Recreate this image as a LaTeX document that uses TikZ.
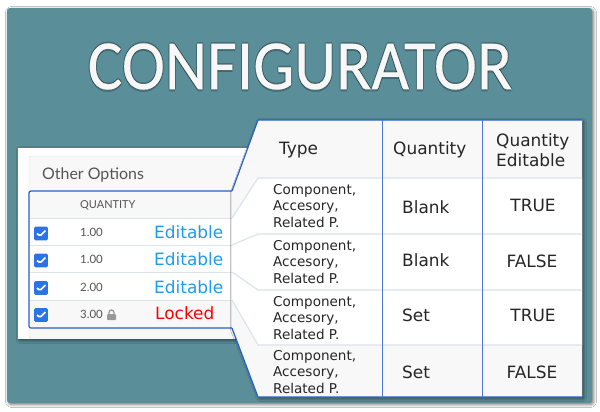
\documentclass[tikz,border=0pt]{standalone}
\usepackage{fontspec}
\setmainfont{DejaVu Sans}
\newfontfamily\titlefont[FakeStretch=0.92,FakeBold=0.3]{Carlito}
\newfontfamily\sfdcfont{Lato}
\usetikzlibrary{shadows.blur}
\definecolor{tealbg}{HTML}{5A8F9A}
\definecolor{rowgray}{HTML}{F8F8F8}
\definecolor{rowline}{HTML}{DDE3EC}
\definecolor{edgeblue}{HTML}{2A5FC8}
\definecolor{colblue}{HTML}{4A78D8}
\definecolor{editblue}{HTML}{1E9BF0}
\definecolor{chkblue}{HTML}{2B74E4}
\definecolor{sfdcgray}{HTML}{555555}
\tikzset{
  softshadow/.style={blur shadow={shadow xshift=1.5pt,shadow yshift=-1.5pt,shadow blur steps=6,shadow blur radius=3pt,shadow opacity=55}},
  headtxt/.style={font=\fontsize{17}{20}\selectfont,text=black!85,inner sep=0pt,align=left},
  celltxt/.style={font=\fontsize{17}{20}\selectfont,text=black!85,inner sep=0pt},
  typetxt/.style={font=\fontsize{13.6}{16.3}\selectfont,text=black!85,inner sep=0pt,anchor=west,align=left},
  qtytxt/.style={font=\sfdcfont\fontsize{11.5}{14}\selectfont,text=sfdcgray,inner sep=0pt,anchor=west},
  edittxt/.style={font=\fontsize{17}{20}\selectfont,text=editblue,inner sep=0pt,anchor=west},
  titletxt/.style={font=\titlefont\fontsize{71}{80}\selectfont,inner sep=0pt},
  titleglow/.style={titletxt,text=black,text opacity=.22},
  chkbox/.style={fill=chkblue,rounded corners=1.5pt,minimum width=14pt,minimum height=14pt,inner sep=0pt,
    path picture={\draw[white,line width=1.7pt] ([xshift=-4pt,yshift=0pt]path picture bounding box.center) -- ([xshift=-1pt,yshift=-2.5pt]path picture bounding box.center) -- ([xshift=4.5pt,yshift=3pt]path picture bounding box.center);}},
  rowsep/.style={draw=rowline,line width=1pt},
  blueedge/.style={draw=edgeblue,line width=1.2pt},
  colsep/.style={draw=colblue,line width=1pt}
}
\begin{document}
\begin{tikzpicture}[x=1bp,y=-1bp]
\useasboundingbox (0,0) rectangle (600,411);
\fill[white] (0,0) rectangle (600,411);

% backdrop and title
\fill[tealbg,rounded corners=3pt,softshadow] (7,8) rectangle (592,403);
\node[titleglow] (glow1) at (301,66.5) {CONFIGURATOR};
\node[titleglow] (glow2) at (299,66.5) {CONFIGURATOR};
\node[titleglow] (glow3) at (300,65) {CONFIGURATOR};
\node[titleglow] (glow4) at (300,68.5) {CONFIGURATOR};
\node[titletxt,text=white!97!black] (title) at (300,66.5) {CONFIGURATOR};

% options list
\begin{scope}
\fill[white,softshadow] (18,148) rectangle (250,339);
\draw[draw=black!15,fill=rowgray,rounded corners=2pt] (29,338) -- (29,156) -- (250,156) -- (250,338) -- cycle;
\node[font=\sfdcfont\fontsize{16}{18}\selectfont,text=sfdcgray,inner sep=0pt,anchor=west] (other) at (42,174.5) {Other Options};
\fill[white] (29,191) rectangle (232,328);
\fill[rowgray] (29,191) rectangle (232,218);
\fill[rowgray] (29,300) rectangle (232,328);
\draw[rowsep] (29,218) -- (232,218);
\draw[rowsep] (29,245) -- (232,245);
\draw[rowsep] (29,272) -- (232,272);
\draw[rowsep] (29,300) -- (232,300);
\draw[blueedge,rounded corners=2pt] (232,191) -- (29,191) -- (29,328) -- (232,328);
\node[qtytxt,font=\sfdcfont\fontsize{11}{13}\selectfont] (qhead) at (80,205) {QUANTITY};
\node[chkbox] (chk1) at (41,233.5) {};
\node[chkbox] (chk2) at (41,260.5) {};
\node[chkbox] (chk3) at (41,288) {};
\node[chkbox] (chk4) at (41,315) {};
\node[qtytxt] (qty1) at (80,232.5) {1.00};
\node[qtytxt] (qty2) at (80,259.5) {1.00};
\node[qtytxt] (qty3) at (80,287) {2.00};
\node[qtytxt] (qty4) at (80,314.5) {3.00};
\fill[black!40,rounded corners=1pt] (107,314) rectangle (116,320);
\draw[black!40,line width=1.3pt] (109,314.5) -- (109,312.5) arc (180:360:2.5) -- (114,314.5);
\node[edittxt] (edit1) at (154,232) {Editable};
\node[edittxt] (edit2) at (154,259) {Editable};
\node[edittxt] (edit3) at (154,287) {Editable};
\node[edittxt,text=red] (lock1) at (155,313) {Locked};
\end{scope}

% zoomed table
\begin{scope}
\fill[rowgray,softshadow] (258,120) -- (582,120) -- (582,397) -- (258,397) -- (232,328) -- (232,191) -- cycle;
\fill[white] (232,218) -- (258,178) -- (582,178) -- (582,345) -- (258,345) -- (232,300) -- cycle;
\draw[rowsep,line width=1.2pt] (232,218) -- (258,178) -- (582,178);
\draw[rowsep,line width=1.2pt] (232,245) -- (258,234) -- (582,234);
\draw[rowsep,line width=1.2pt] (232,272) -- (258,290) -- (582,290);
\draw[rowsep,line width=1.2pt] (232,300) -- (258,345) -- (582,345);
\draw[blueedge] (232,191) -- (258,120) -- (582,120);
\draw[blueedge] (232,328) -- (258,397) -- (582,397);
\draw[colsep] (382,120) -- (382,397);
\draw[colsep] (482,120) -- (482,397);
\node[headtxt,anchor=west] (type) at (279,150) {Type};
\node[headtxt,anchor=west] (quantity) at (393,150) {Quantity};
\node[headtxt,anchor=west] (qtyedit) at (496,150) {Quantity\\Editable};
\node[typetxt] (type1) at (273,206) {Component,\\Accesory,\\Related P.};
\node[typetxt] (type2) at (273,262) {Component,\\Accesory,\\Related P.};
\node[typetxt] (type3) at (273,318) {Component,\\Accesory,\\Related P.};
\node[typetxt] (type4) at (273,372) {Component,\\Accesory,\\Related P.};
\node[celltxt,anchor=west] (val1) at (402,207) {Blank};
\node[celltxt,anchor=west] (val2) at (402,260) {Blank};
\node[celltxt,anchor=west] (val3) at (402,315) {Set};
\node[celltxt,anchor=west] (val4) at (402,372) {Set};
\node[celltxt] (flag1) at (533,205) {TRUE};
\node[celltxt] (flag2) at (532,261) {FALSE};
\node[celltxt] (flag3) at (533,315) {TRUE};
\node[celltxt] (flag4) at (532,372) {FALSE};
\end{scope}
\end{tikzpicture}
\end{document}
